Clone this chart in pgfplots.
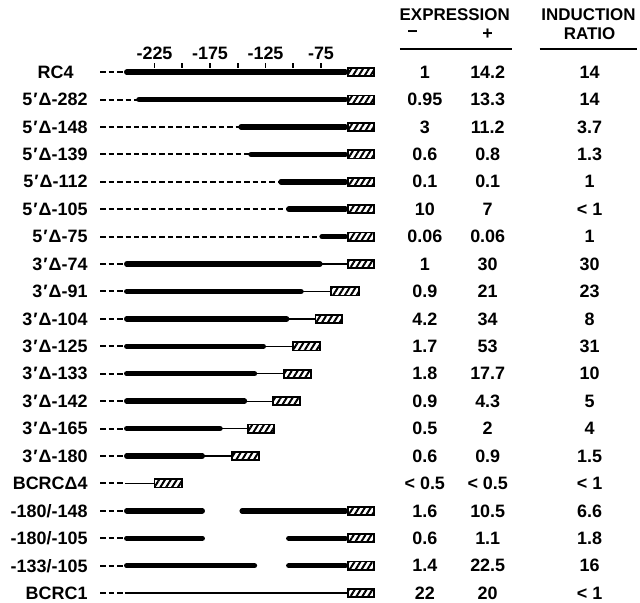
\documentclass[border=0pt]{standalone}
\usepackage{fontspec}
\setmainfont{Liberation Sans}
\usepackage{pgfplots}
\pgfplotsset{compat=1.18}
\usetikzlibrary{patterns.meta}
\newcommand\DL[3]{\addplot[dl] coordinates {(#1,#3) (#2,#3)};}
\newcommand\SL[3]{\addplot[sl] coordinates {(#1,#3) (#2,#3)};}
\newcommand\TL[3]{\addplot[tl] coordinates {(#1,#3) (#2,#3)};}
\newcommand\BX[4]{\addplot[bx] coordinates {(#1,#3) (#2,#3) (#2,#4) (#1,#4)} --cycle;}
\newcommand\ROW[5]{%
  \node[anchor=east] at (axis cs:-282.2,#1) {#2};
  \node at (axis cs:18.5,#1) {#3};
  \node at (axis cs:75.2,#1) {#4};
  \node at (axis cs:167,#1) {#5};}
\begin{document}
\begin{tikzpicture}[font=\fontsize{18}{21}\selectfont\bfseries]
\begin{axis}[
  scale only axis, width=640bp, height=538bp,
  xmin=-364.2, xmax=212.4, ymin=-19.29, ymax=0.33,
  axis x line*=top, axis y line=none,
  x axis line style={draw=none},
  xtick={-225,-175,-125,-75}, xticklabels={-225,-175,-125,-75},
  minor xtick={-200,-150,-100},
  tick align=inside, major tick length=5bp, minor tick length=5bp,
  tick style={black, line width=1.6pt},
  clip=false,
  dl/.style={black, line width=2pt, dash pattern=on 5.5pt off 3pt, no markers},
  sl/.style={black, line width=5.5pt, line cap=round, no markers},
  tl/.style={black, line width=1.3pt, no markers},
  bx/.style={black, line width=1.8pt, preaction={fill=white}, pattern={Lines[angle=58,distance=5pt,line width=2pt]}, no markers},
]
% rows: dashed vector, solid promoter region, thin line, hatched reporter box
\DL{-274}{-252}{0}   \SL{-250}{-53}{0}   \BX{-51}{-27}{-0.15}{0.15}
\DL{-274}{-241}{-1}  \SL{-239}{-53}{-1}  \BX{-51}{-27}{-1.15}{-0.85}
\DL{-274}{-149}{-2}  \SL{-147}{-53}{-2}  \BX{-51}{-27}{-2.15}{-1.85}
\DL{-274}{-140}{-3}  \SL{-138}{-53}{-3}  \BX{-51}{-27}{-3.15}{-2.85}
\DL{-274}{-113}{-4}  \SL{-111}{-53}{-4}  \BX{-51}{-27}{-4.15}{-3.85}
\DL{-274}{-106}{-5}  \SL{-104}{-53}{-5}  \BX{-51}{-27}{-5.15}{-4.85}
\DL{-274}{-76}{-6}   \SL{-74}{-53}{-6}   \BX{-51}{-27}{-6.15}{-5.85}
\DL{-274}{-252}{-7}  \SL{-250}{-76}{-7}  \TL{-76}{-51}{-7}   \BX{-51}{-27}{-7.15}{-6.85}
\DL{-274}{-252}{-8}  \SL{-250}{-93}{-8}  \TL{-93}{-66}{-8}   \BX{-66}{-41}{-8.15}{-7.85}
\DL{-274}{-252}{-9}  \SL{-250}{-106}{-9} \TL{-106}{-80}{-9}  \BX{-80}{-56}{-9.15}{-8.85}
\DL{-274}{-252}{-10} \SL{-250}{-127}{-10} \TL{-127}{-100}{-10} \BX{-100}{-76}{-10.15}{-9.85}
\DL{-274}{-252}{-11} \SL{-250}{-135}{-11} \TL{-135}{-108}{-11} \BX{-108}{-84}{-11.15}{-10.85}
\DL{-274}{-252}{-12} \SL{-250}{-144}{-12} \TL{-144}{-118}{-12} \BX{-118}{-94}{-12.15}{-11.85}
\DL{-274}{-252}{-13} \SL{-250}{-166}{-13} \TL{-166}{-141}{-13} \BX{-141}{-117}{-13.15}{-12.85}
\DL{-274}{-252}{-14} \SL{-250}{-182}{-14} \TL{-182}{-155}{-14} \BX{-155}{-131}{-14.15}{-13.85}
\DL{-274}{-252}{-15} \TL{-252}{-225}{-15} \BX{-225}{-200}{-15.15}{-14.85}
\DL{-274}{-252}{-16} \SL{-250}{-182}{-16} \SL{-146}{-53}{-16} \BX{-51}{-27}{-16.15}{-15.85}
\DL{-274}{-252}{-17} \SL{-250}{-182}{-17} \SL{-104}{-53}{-17} \BX{-51}{-27}{-17.15}{-16.85}
\DL{-274}{-252}{-18} \SL{-250}{-135}{-18} \SL{-104}{-53}{-18} \BX{-51}{-27}{-18.15}{-17.85}
\DL{-274}{-252}{-19} \TL{-252}{-51}{-19}  \BX{-51}{-27}{-19.15}{-18.85}
% header
\node[font=\fontsize{17}{20}\selectfont\bfseries] at (axis cs:45.5,2.08) {EXPRESSION};
\node at (axis cs:7.6,1.39) {−};
\node at (axis cs:75.2,1.39) {+};
\node[font=\fontsize{17}{20}\selectfont\bfseries] at (axis cs:166,2.08) {INDUCTION};
\node[font=\fontsize{17}{20}\selectfont\bfseries] at (axis cs:167,1.39) {RATIO};
\draw[line width=1.6pt] (axis cs:-4,0.84) -- (axis cs:96.8,0.84);
\draw[line width=1.6pt] (axis cs:122,0.84) -- (axis cs:210,0.84);
\path (axis cs:-364.2,2.63) -- (axis cs:212.4,2.63);
% labels and values
\node[anchor=east] at (axis cs:-294.8,0) {RC4};
\node at (axis cs:18.5,0) {1};
\node at (axis cs:75.2,0) {14.2};
\node at (axis cs:167,0) {14};
\ROW{-1}{5\kern1pt′\kern1ptΔ-282}{0.95}{13.3}{14}
\ROW{-2}{5\kern1pt′\kern1ptΔ-148}{3}{11.2}{3.7}
\ROW{-3}{5\kern1pt′\kern1ptΔ-139}{0.6}{0.8}{1.3}
\ROW{-4}{5\kern1pt′\kern1ptΔ-112}{0.1}{0.1}{1}
\ROW{-5}{5\kern1pt′\kern1ptΔ-105}{10}{7}{< 1}
\ROW{-6}{5\kern1pt′\kern1ptΔ-75}{0.06}{0.06}{1}
\ROW{-7}{3\kern1pt′\kern1ptΔ-74}{1}{30}{30}
\ROW{-8}{3\kern1pt′\kern1ptΔ-91}{0.9}{21}{23}
\ROW{-9}{3\kern1pt′\kern1ptΔ-104}{4.2}{34}{8}
\ROW{-10}{3\kern1pt′\kern1ptΔ-125}{1.7}{53}{31}
\ROW{-11}{3\kern1pt′\kern1ptΔ-133}{1.8}{17.7}{10}
\ROW{-12}{3\kern1pt′\kern1ptΔ-142}{0.9}{4.3}{5}
\ROW{-13}{3\kern1pt′\kern1ptΔ-165}{0.5}{2}{4}
\ROW{-14}{3\kern1pt′\kern1ptΔ-180}{0.6}{0.9}{1.5}
\ROW{-15}{BCRCΔ4}{< 0.5}{< 0.5}{< 1}
\ROW{-16}{-180/-148}{1.6}{10.5}{6.6}
\ROW{-17}{-180/-105}{0.6}{1.1}{1.8}
\ROW{-18}{-133/-105}{1.4}{22.5}{16}
\ROW{-19}{BCRC1}{22}{20}{< 1}
\end{axis}
\end{tikzpicture}
\end{document}
